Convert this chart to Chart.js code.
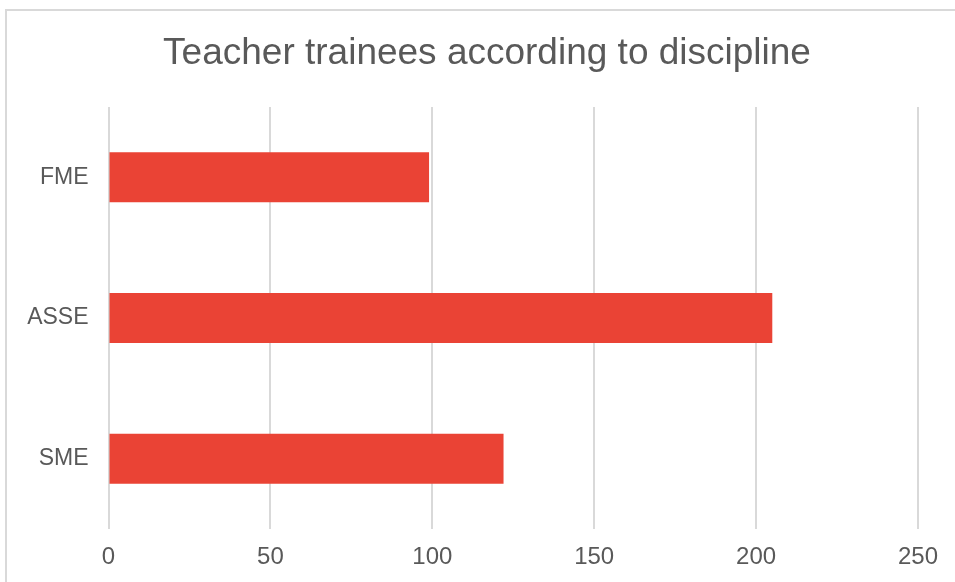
<!DOCTYPE html>
<html>
<head>
<meta charset="utf-8">
<script src="https://cdn.jsdelivr.net/npm/chart.js@4.4.1/dist/chart.umd.min.js"></script>
<style>
  html, body { margin: 0; padding: 0; overflow: hidden; background: #fff; }
  #frame {
    position: absolute; left: 5px; top: 9px;
    width: 970px; height: 600px;
    border: 2px solid #d9d9d9;
  }
  #wrap { position: absolute; left: 0; top: 0; width: 955px; height: 582px; }
</style>
</head>
<body>
<div id="frame"></div>
<div id="wrap"><canvas id="chart" width="955" height="582"></canvas></div>
<script>
// Data
const categories = ['FME', 'ASSE', 'SME'];
const trainees = [99, 205, 122];
const xTicks = [0, 50, 100, 150, 200, 250];
const chartTitle = 'Teacher trainees according to discipline';

const textColor = '#595959';
const gridColor = '#d9d9d9';
const fontFamily = 'Liberation Sans, Arial, sans-serif';

// title is centred on the whole frame, not on the chart area
const titlePlugin = {
  id: 'frameTitle',
  afterDraw(chart) {
    const c = chart.ctx;
    c.save();
    c.font = '37px ' + fontFamily;
    c.fillStyle = textColor;
    c.textAlign = 'center';
    c.textBaseline = 'middle';
    c.fillText(chartTitle, 487, 54);
    c.restore();
  }
};

const ctx = document.getElementById('chart').getContext('2d');
new Chart(ctx, {
  type: 'bar',
  data: {
    labels: categories,
    datasets: [{
      data: trainees,
      backgroundColor: '#ea4335',
      borderWidth: 0,
      barPercentage: 0.71,
      categoryPercentage: 0.5
    }]
  },
  options: {
    indexAxis: 'y',
    responsive: false,
    animation: false,
    layout: { padding: { left: 0, right: 37, top: 107, bottom: 0 } },
    plugins: {
      legend: { display: false },
      tooltip: { enabled: false },
      title: { display: false }
    },
    scales: {
      x: {
        min: 0,
        max: 250,
        afterBuildTicks: axis => { axis.ticks = xTicks.map(v => ({ value: v })); },
        afterFit: axis => { axis.height = 53; },
        grid: { color: gridColor, lineWidth: 2, drawTicks: false },
        border: { display: false },
        ticks: {
          color: textColor,
          padding: 14,
          font: { family: fontFamily, size: 24 }
        }
      },
      y: {
        afterFit: axis => { axis.width = 108.5; },
        grid: { display: false },
        border: { display: false },
        ticks: {
          color: textColor,
          padding: 12,
          font: { family: fontFamily, size: 23 }
        }
      }
    }
  },
  plugins: [titlePlugin]
});
</script>
</body>
</html>
